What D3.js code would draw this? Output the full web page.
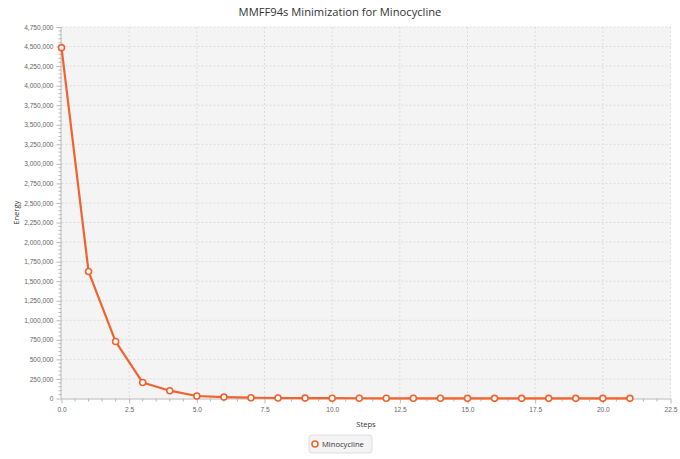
<!DOCTYPE html>
<html>
<head>
<meta charset="utf-8">
<script src="https://cdn.jsdelivr.net/npm/d3@7"></script>
<style>
  body { margin: 0; background: #fff; font-family: "Open Sans", "DejaVu Sans", sans-serif; }
  .grid line { stroke: #dcdcdc; stroke-dasharray: 2 2; }
  .axis path, .axis line { stroke: #b8b8b8; }
  .axis text { fill: #666; font-size: 6.6px; }
</style>
</head>
<body>
<svg id="chart" width="680" height="459"></svg>
<script>
// data
const steps = [0, 1, 2, 3, 4, 5, 6, 7, 8, 9, 10, 11, 12, 13, 14, 15, 16, 17, 18, 19, 20, 21];
const energy = [4486000, 1623000, 728000, 204000, 100000, 32000, 18000, 10000, 6500, 4800,
  3800, 3200, 2800, 2500, 2300, 2100, 2000, 1900, 1800, 1700, 1650, 1600];
const seriesName = "Minocycline";
const xTicks = [0, 2.5, 5, 7.5, 10, 12.5, 15, 17.5, 20, 22.5];
const yTicks = d3.range(0, 4750001, 250000);

var width = 680, height = 459;
var margin = { top: 27, right: 9.5, bottom: 60.5, left: 61.5 };
var w = width - margin.left - margin.right, h = height - margin.top - margin.bottom;
var color = "#f3622d";

var svg = d3.select("#chart");

svg.append("text")
  .attr("x", width / 2).attr("y", 16)
  .attr("text-anchor", "middle")
  .attr("fill", "#333")
  .style("font-size", "11.2px")
  .text("MMFF94s Minimization for Minocycline");

var g = svg.append("g").attr("transform", "translate(" + margin.left + "," + margin.top + ")");

var x = d3.scaleLinear().domain([0, 22.5]).range([0, w]);
var y = d3.scaleLinear().domain([0, 4750000]).range([h, 0]);

g.append("rect").attr("width", w).attr("height", h).attr("fill", "#f4f4f4");

// grid
g.append("g").attr("class", "grid")
  .selectAll("line.v").data(xTicks.slice(1)).enter().append("line")
  .attr("x1", d => x(d)).attr("x2", d => x(d)).attr("y1", 0).attr("y2", h);
g.append("g").attr("class", "grid")
  .selectAll("line.h").data(yTicks.slice(1)).enter().append("line")
  .attr("x1", 0).attr("x2", w).attr("y1", d => y(d)).attr("y2", d => y(d));

// minor ticks
var xMinor = d3.range(0, 22.5001, 0.5).filter(d => xTicks.indexOf(d) < 0);
var yMinor = d3.range(0, 4750001, 50000).filter(d => d % 250000 !== 0);

var xAxis = g.append("g").attr("class", "axis")
  .attr("transform", "translate(0," + h + ")")
  .call(d3.axisBottom(x).tickValues(xTicks).tickSize(5).tickPadding(4).tickFormat(d3.format(".1f")));
xAxis.select(".domain").attr("d", "M0,0.5H" + w);
xAxis.append("g").selectAll("line").data(xMinor).enter().append("line")
  .attr("x1", d => x(d)).attr("x2", d => x(d)).attr("y1", 0).attr("y2", 3)
  .attr("stroke", "#b8b8b8");

var yAxis = g.append("g").attr("class", "axis")
  .call(d3.axisLeft(y).tickValues(yTicks).tickSize(5).tickPadding(3).tickFormat(d3.format(",")));
yAxis.select(".domain").attr("d", "M-0.5,0V" + h);
yAxis.append("g").selectAll("line").data(yMinor).enter().append("line")
  .attr("x1", 0).attr("x2", -3).attr("y1", d => y(d)).attr("y2", d => y(d))
  .attr("stroke", "#b8b8b8");

svg.append("text")
  .attr("x", margin.left + w / 2).attr("y", 427)
  .attr("text-anchor", "middle").attr("fill", "#333")
  .style("font-size", "7.6px").text("Steps");
svg.append("text")
  .attr("transform", "translate(19," + (margin.top + h / 2) + ") rotate(-90)")
  .attr("text-anchor", "middle").attr("fill", "#333")
  .style("font-size", "7.6px").text("Energy");

// series
var data = steps.map((s, i) => ({ x: s, y: energy[i] }));
var line = d3.line().x(d => x(d.x)).y(d => y(d.y));
g.append("path").datum(data)
  .attr("d", line).attr("fill", "none")
  .attr("stroke", color).attr("stroke-width", 2.2).attr("stroke-linejoin", "round");
g.selectAll("circle.pt").data(data).enter().append("circle")
  .attr("cx", d => x(d.x)).attr("cy", d => y(d.y)).attr("r", 3)
  .attr("fill", "#fff").attr("stroke", color).attr("stroke-width", 1.6);

// legend
var lg = svg.append("g").attr("transform", "translate(309,435)");
lg.append("rect").attr("width", 63).attr("height", 18).attr("rx", 3)
  .attr("fill", "#f4f4f4").attr("stroke", "#dedede");
lg.append("circle").attr("cx", 6).attr("cy", 9).attr("r", 3)
  .attr("fill", "#fff").attr("stroke", color).attr("stroke-width", 1.6);
lg.append("text").attr("x", 13).attr("y", 11.8).attr("fill", "#333")
  .style("font-size", "7.6px").text(seriesName);
</script>
</body>
</html>
